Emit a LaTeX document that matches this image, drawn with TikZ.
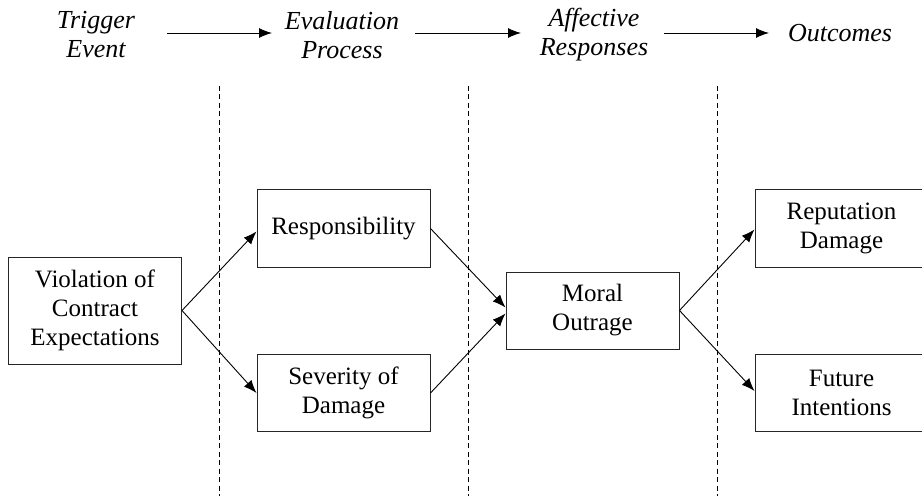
\documentclass[tikz,border=0pt]{standalone}
\usepackage{fontspec}
\setmainfont{Liberation Serif}
\usetikzlibrary{arrows.meta,calc}
\tikzset{
  box/.style={draw=black!85, line width=1pt, minimum width=173pt, minimum height=77pt,
    align=center, font=\fontsize{25}{29}\selectfont, inner sep=2pt},
  head/.style={align=center, font=\fontsize{26}{29}\selectfont\itshape},
  conn/.style={line width=0.9pt, -{Latex[length=13pt,width=10pt]}},
  divider/.style={line width=0.9pt, dash pattern=on 5pt off 3.5pt}
}
\begin{document}
\begin{tikzpicture}[x=1pt,y=-1pt]
\useasboundingbox (0,0) rectangle (922,500);
% headings
\node[head] (h1) at (96,35) {Trigger\\Event};
\node[head] (h2) at (342,35) {Evaluation\\Process};
\node[head] (h3) at (594,35) {Affective\\Responses};
\node[head] (h4) at (840,33) {Outcomes};
\coordinate (a1s) at (167,33); \coordinate (a1e) at (272,33);
\coordinate (a2s) at (415,33); \coordinate (a2e) at (521,33);
\coordinate (a3s) at (664,33); \coordinate (a3e) at (769,33);
\draw[conn] (a1s) -- (a1e);
\draw[conn] (a2s) -- (a2e);
\draw[conn] (a3s) -- (a3e);
% dividers
\coordinate (d1t) at (219,86); \coordinate (d1b) at (219,496);
\coordinate (d2t) at (468,86); \coordinate (d2b) at (468,496);
\coordinate (d3t) at (717,86); \coordinate (d3b) at (717,496);
\draw[divider] (d1t) -- (d1b);
\draw[divider] (d2t) -- (d2b);
\draw[divider] (d3t) -- (d3b);
% boxes
\node[box, minimum height=107pt] (vio) at (95,310.5) {Violation of\\Contract\\Expectations};
\node[box] (res) at (343.5,228.5) {Responsibility};
\node[box] (sev) at (343.5,393) {Severity of\\Damage};
\node[box] (mor) at (592.5,310.5) {Moral\\Outrage};
\node[box] (rep) at (841.5,228.5) {Reputation\\Damage};
\node[box] (fut) at (841.5,393) {Future\\Intentions};
% connectors
\draw[conn] (vio.east) -- ($(res.west)+(0,3)$);
\draw[conn] (vio.east) -- (sev.west);
\draw[conn] (res.east) -- ($(mor.west)+(0,-3)$);
\draw[conn] (sev.east) -- ($(mor.west)+(0,3)$);
\draw[conn] (mor.east) -- ($(rep.west)+(0,1)$);
\draw[conn] (mor.east) -- ($(fut.west)+(0,-2)$);
\end{tikzpicture}
\end{document}
